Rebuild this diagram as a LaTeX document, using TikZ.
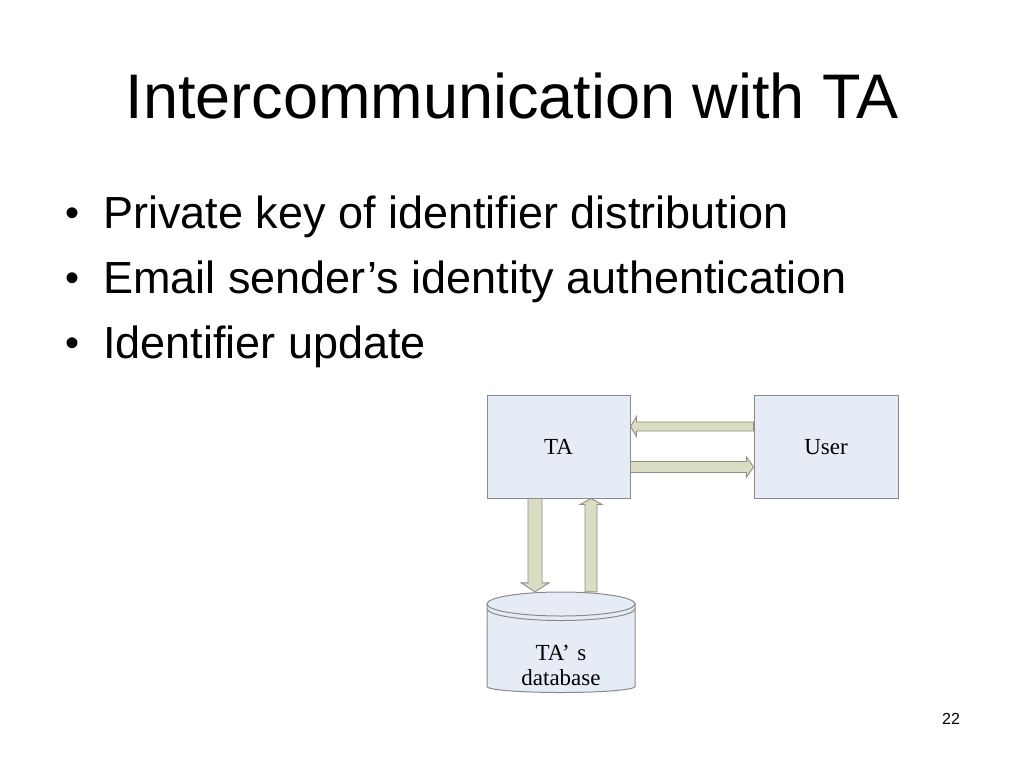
\documentclass[tikz,border=0pt]{standalone}
\usepackage{fontspec}
\setmainfont{Liberation Sans}
\newfontfamily\serifdiag{Liberation Serif}
\usetikzlibrary{calc}
\definecolor{boxfill}{HTML}{E6ECF5}
\definecolor{boxline}{HTML}{8A8A8A}
\definecolor{arrfill}{HTML}{DADCC4}
\definecolor{arrline}{HTML}{8E8E80}
\tikzset{
  box/.style={draw=boxline, fill=boxfill, line width=1pt, minimum width=143pt, minimum height=103pt, inner sep=0pt, text height=15pt, text depth=0pt, font=\serifdiag\fontsize{23}{25}\selectfont},
  fatarrow/.style={draw=arrline, fill=arrfill, line width=0.9pt, line join=miter},
  bullettext/.style={anchor=base west, inner sep=0pt, font=\fontsize{45}{48}\selectfont},
  bulletdot/.style={anchor=base, inner sep=0pt, font=\fontsize{40}{44}\selectfont},
}
\begin{document}
\begin{tikzpicture}[x=1pt,y=-1pt]
\useasboundingbox (0,0) rectangle (1024,768);
% title
\node[anchor=base, inner sep=0pt, font=\fontsize{63}{70}\selectfont] (title) at (512,118) {Intercommunication with TA};
% bullets
\node[bulletdot] (b1) at (73,226) {•};
\node[bullettext] (t1) at (103,228) {Private key of identifier distribution};
\node[bulletdot] (b2) at (73,291) {•};
\node[bullettext] (t2) at (103,293) {Email sender’s identity authentication};
\node[bulletdot] (b3) at (73,356) {•};
\node[bullettext] (t3) at (103,358) {Identifier update};
% boxes
\node[box] (ta) at (558.5,446.5) {TA};
\node[box, minimum width=144pt] (user) at (826,446.5) {User};
% database placeholder node
\node[inner sep=0pt, minimum width=148pt, minimum height=101pt] (db) at (561,642.5) {};
\begin{scope}[shift={(db.center)}]
  \path[fill=boxfill, draw=boxline, line width=1pt]
    (-74,-38.5) -- (-74,44) arc[start angle=180, end angle=360, x radius=74pt, y radius=6pt]
    -- (74,-38.5) -- cycle;
  \draw[fill=boxfill, draw=boxline, line width=1pt] (0,-38.5) ellipse[x radius=74pt, y radius=12pt];
  \draw[boxline, line width=1pt] (-74,-34) arc[start angle=180, end angle=360, x radius=74pt, y radius=12pt];
\end{scope}
\node[inner sep=0pt, align=center, font=\serifdiag\fontsize{23}{25}\selectfont] (dbtext) at (561,665) {TA’\,\,s\\database};
% horizontal arrows
\coordinate (a1t) at (ta.east |- 0,426.5);
\coordinate (a1s) at (user.west |- 0,426.5);
\draw[fatarrow] ($(a1s)+(0,-4.5)$) -- ($(a1t)+(6,-4.5)$) -- ($(a1t)+(6,-10)$) -- (a1t)
  -- ($(a1t)+(6,10)$) -- ($(a1t)+(6,4.5)$) -- ($(a1s)+(0,4.5)$) -- cycle;
\coordinate (a2s) at (ta.east |- 0,467);
\coordinate (a2t) at (user.west |- 0,467);
\draw[fatarrow] ($(a2s)+(0,-5.5)$) -- ($(a2t)+(-7,-5.5)$) -- ($(a2t)+(-7,-10)$) -- (a2t)
  -- ($(a2t)+(-7,10)$) -- ($(a2t)+(-7,5.5)$) -- ($(a2s)+(0,5.5)$) -- cycle;
% vertical arrows
\coordinate (a3s) at (ta.south -| 535,0);
\coordinate (a3t) at (db.north -| 535,0);
\draw[fatarrow] ($(a3s)+(-7,0)$) -- ($(a3t)+(-7,-9)$) -- ($(a3t)+(-14,-9)$) -- (a3t)
  -- ($(a3t)+(14,-9)$) -- ($(a3t)+(7,-9)$) -- ($(a3s)+(7,0)$) -- cycle;
\coordinate (a4s) at (db.north -| 591,0);
\coordinate (a4t) at (ta.south -| 591,0);
\draw[fatarrow] ($(a4s)+(-6,0)$) -- ($(a4t)+(-6,6)$) -- ($(a4t)+(-11,6)$) -- (a4t)
  -- ($(a4t)+(11,6)$) -- ($(a4t)+(6,6)$) -- ($(a4s)+(6,0)$) -- cycle;
% page number
\node[anchor=base, inner sep=0pt, font=\fontsize{16}{18}\selectfont] (pg) at (951,724) {22};
\end{tikzpicture}
\end{document}
